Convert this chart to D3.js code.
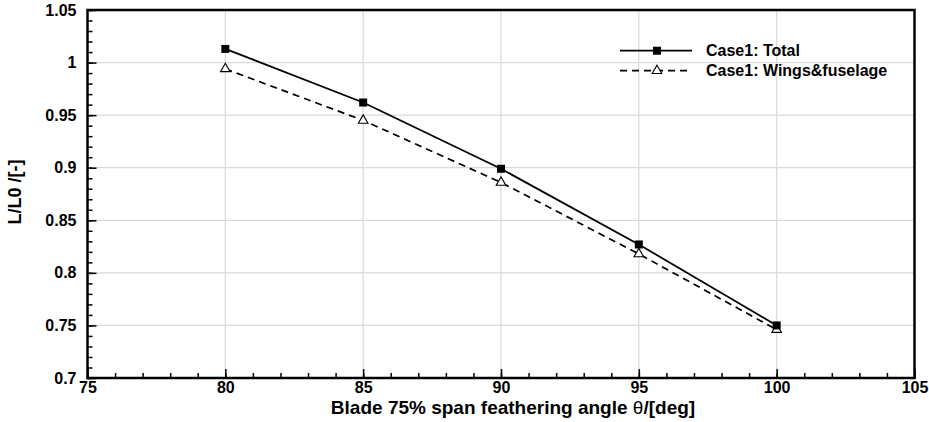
<!DOCTYPE html>
<html>
<head>
<meta charset="utf-8">
<script src="https://cdn.jsdelivr.net/npm/d3@7"></script>
<style>
  body { margin: 0; background: #fff; }
  text { font-family: "Liberation Sans", Arial, Helvetica, sans-serif; font-weight: bold; }
</style>
</head>
<body>
<svg id="chart" width="929" height="422"></svg>
<script>
// data
const angles = [80, 85, 90, 95, 100];
const total = [1.013, 0.962, 0.899, 0.827, 0.750];
const wingsFuselage = [0.994, 0.945, 0.886, 0.818, 0.746];
const xTicks = [75, 80, 85, 90, 95, 100, 105];
const yTicks = [0.7, 0.75, 0.8, 0.85, 0.9, 0.95, 1, 1.05];
const seriesNames = ["Case1: Total", "Case1: Wings&fuselage"];

const svg = d3.select("#chart");
const pL = 87.5, pR = 914.5, pT = 10, pB = 378;

const x = d3.scaleLinear().domain([75, 105]).range([pL, pR]);
const y = d3.scaleLinear().domain([0.7, 1.05]).range([pB, pT]);

// grid
svg.append("g").selectAll("line").data(xTicks).join("line")
  .attr("x1", d => x(d)).attr("x2", d => x(d))
  .attr("y1", pT).attr("y2", pB)
  .attr("stroke", "#d9d9d9").attr("stroke-width", 1.2);
svg.append("g").selectAll("line").data(yTicks).join("line")
  .attr("x1", pL).attr("x2", pR)
  .attr("y1", d => y(d)).attr("y2", d => y(d))
  .attr("stroke", "#d9d9d9").attr("stroke-width", 1.2);

// axes, ticks inside
const xMinor = d3.range(75, 105.01, 1);
const yMinor = d3.range(0, 36).map(i => 0.7 + i * 0.01);

const xAxis = svg.append("g").attr("transform", `translate(0,${pB})`);
xAxis.call(d3.axisBottom(x).tickValues(xMinor).tickSize(-5).tickFormat(""));
xAxis.append("g").call(d3.axisBottom(x).tickValues(xTicks).tickSize(-9).tickPadding(4).tickFormat(d3.format("d")));

const yAxis = svg.append("g").attr("transform", `translate(${pL},0)`);
yAxis.call(d3.axisLeft(y).tickValues(yMinor).tickSize(-5).tickFormat(""));
yAxis.append("g").call(d3.axisLeft(y).tickValues(yTicks).tickSize(-9).tickPadding(11).tickFormat(d => String(+d.toFixed(2))));

svg.selectAll(".domain").remove();
svg.selectAll(".tick line").attr("stroke", "#000").attr("stroke-width", 1.5);
svg.selectAll(".tick text").attr("fill", "#000").style("font-size", "16px");

// frame
svg.append("rect")
  .attr("x", pL).attr("y", pT)
  .attr("width", pR - pL).attr("height", pB - pT)
  .attr("fill", "none").attr("stroke", "#000").attr("stroke-width", 2.5);

// series
const line = d3.line().x(d => x(d[0])).y(d => y(d[1]));
const totalPts = angles.map((a, i) => [a, total[i]]);
const wfPts = angles.map((a, i) => [a, wingsFuselage[i]]);

svg.append("path").datum(wfPts).attr("d", line)
  .attr("fill", "none").attr("stroke", "#000").attr("stroke-width", 1.7)
  .attr("stroke-dasharray", "7,5");
svg.append("path").datum(totalPts).attr("d", line)
  .attr("fill", "none").attr("stroke", "#000").attr("stroke-width", 1.8);

const tri = d3.symbol().type(d3.symbolTriangle).size(40);
svg.append("g").selectAll("path").data(wfPts).join("path")
  .attr("transform", d => `translate(${x(d[0])},${y(d[1])})`)
  .attr("d", tri).attr("fill", "#fff").attr("stroke", "#000").attr("stroke-width", 1.1);
svg.append("g").selectAll("rect").data(totalPts).join("rect")
  .attr("x", d => x(d[0]) - 4).attr("y", d => y(d[1]) - 4)
  .attr("width", 8).attr("height", 8).attr("fill", "#000");

// legend
const leg = svg.append("g");
const rows = [50.7, 70.7];
leg.append("line").attr("x1", 620).attr("x2", 692).attr("y1", rows[0]).attr("y2", rows[0])
  .attr("stroke", "#000").attr("stroke-width", 1.8);
leg.append("rect").attr("x", 653).attr("y", rows[0] - 4).attr("width", 8).attr("height", 8).attr("fill", "#000");
leg.append("line").attr("x1", 620).attr("x2", 692).attr("y1", rows[1]).attr("y2", rows[1])
  .attr("stroke", "#000").attr("stroke-width", 1.7).attr("stroke-dasharray", "7,5");
leg.append("path").attr("transform", `translate(657,${rows[1]})`).attr("d", tri)
  .attr("fill", "#fff").attr("stroke", "#000").attr("stroke-width", 1.1);
leg.selectAll("text.lg").data(seriesNames).join("text")
  .attr("class", "lg")
  .attr("x", 706).attr("y", (d, i) => rows[i])
  .attr("dy", "0.36em")
  .style("font-size", "16px")
  .text(d => d);

// axis titles
const xt = svg.append("text")
  .attr("x", (pL + pR) / 2 + 12).attr("y", 414)
  .attr("text-anchor", "middle").style("font-size", "19px");
xt.append("tspan").text("Blade 75% span feathering angle ");
xt.append("tspan").style("font-weight", "normal").text("θ");
xt.append("tspan").text("/[deg]");
svg.append("text")
  .attr("transform", `translate(21,${(pT + pB) / 2 - 2}) rotate(-90)`)
  .attr("text-anchor", "middle").style("font-size", "18px")
  .text("L/L0 /[-]");
</script>
</body>
</html>
